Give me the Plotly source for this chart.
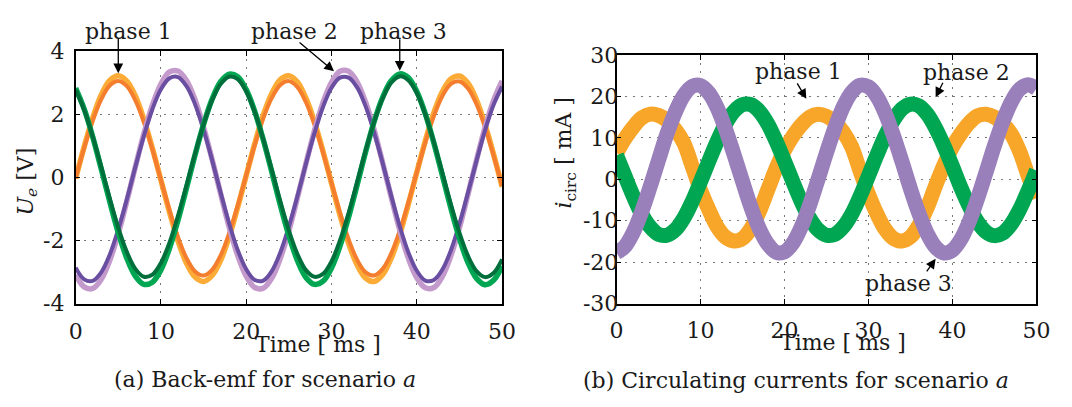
import plotly.graph_objects as go

# ---------------------------------------------------------------- data
time_ms = list(range(0, 51))

# Back-emf U_e [V] per phase; each phase is recorded as two traces
emf1_light = [-0.04, 0.97, 1.88, 2.61, 3.07, 3.22, 3.05, 2.58, 1.84, 0.92,
              -0.09, -1.10, -2.01, -2.72, -3.16, -3.30, -3.11, -2.63, -1.88, -0.95,
              0.06, 1.07, 1.97, 2.66, 3.10, 3.22, 3.02, 2.51, 1.76, 0.83,
              -0.19, -1.20, -2.09, -2.77, -3.19, -3.30, -3.08, -2.56, -1.80, -0.86,
              0.16, 1.16, 2.05, 2.72, 3.12, 3.21, 2.98, 2.45, 1.67, 0.73,
              -0.30]
emf1_dark = [-0.03, 0.93, 1.79, 2.47, 2.91, 3.05, 2.89, 2.44, 1.75, 0.88,
             -0.08, -1.03, -1.89, -2.56, -2.98, -3.11, -2.93, -2.47, -1.77, -0.89,
             0.07, 1.02, 1.87, 2.52, 2.93, 3.05, 2.86, 2.38, 1.67, 0.79,
             -0.18, -1.12, -1.96, -2.61, -3.01, -3.11, -2.90, -2.41, -1.69, -0.80,
             0.16, 1.11, 1.94, 2.58, 2.96, 3.04, 2.82, 2.32, 1.59, 0.69,
             -0.27]
emf2_light = [-3.08, -3.47, -3.52, -3.23, -2.63, -1.78, -0.76, 0.33, 1.38, 2.29,
              2.96, 3.34, 3.37, 3.07, 2.46, 1.59, 0.57, -0.52, -1.57, -2.47,
              -3.13, -3.49, -3.51, -3.19, -2.56, -1.69, -0.65, 0.44, 1.48, 2.37,
              3.01, 3.36, 3.36, 3.02, 2.38, 1.50, 0.46, -0.63, -1.67, -2.55,
              -3.18, -3.50, -3.49, -3.14, -2.48, -1.59, -0.54, 0.55, 1.58, 2.44,
              3.06]
emf2_dark = [-2.86, -3.23, -3.28, -3.01, -2.45, -1.65, -0.70, 0.33, 1.31, 2.16,
             2.79, 3.14, 3.18, 2.89, 2.32, 1.51, 0.55, -0.48, -1.46, -2.30,
             -2.91, -3.25, -3.27, -2.97, -2.38, -1.56, -0.60, 0.43, 1.40, 2.23,
             2.84, 3.16, 3.16, 2.85, 2.25, 1.42, 0.45, -0.58, -1.55, -2.37,
             -2.96, -3.27, -3.25, -2.92, -2.31, -1.47, -0.49, 0.53, 1.49, 2.30,
             2.88]
emf3_light = [2.83, 2.17, 1.29, 0.27, -0.77, -1.75, -2.56, -3.13, -3.39, -3.32,
              -2.93, -2.25, -1.36, -0.34, 0.71, 1.68, 2.48, 3.03, 3.27, 3.19,
              2.78, 2.09, 1.19, 0.17, -0.88, -1.84, -2.63, -3.17, -3.39, -3.29,
              -2.87, -2.17, -1.26, -0.24, 0.81, 1.77, 2.54, 3.06, 3.28, 3.16,
              2.72, 2.01, 1.09, 0.06, -0.98, -1.93, -2.70, -3.20, -3.40, -3.26,
              -2.81]
emf3_dark = [2.77, 2.14, 1.30, 0.34, -0.66, -1.59, -2.36, -2.90, -3.15, -3.08,
             -2.71, -2.07, -1.22, -0.25, 0.75, 1.67, 2.44, 2.96, 3.19, 3.11,
             2.72, 2.07, 1.21, 0.24, -0.76, -1.68, -2.43, -2.94, -3.15, -3.06,
             -2.66, -1.99, -1.13, -0.15, 0.85, 1.76, 2.50, 3.00, 3.20, 3.08,
             2.67, 1.99, 1.12, 0.14, -0.85, -1.76, -2.49, -2.97, -3.16, -3.03,
             -2.60]

# Circulating currents i_circ [mA]
icirc1 = [6.3, 9.8, 12.6, 14.8, 15.7, 15.4, 14.2, 12.0, 8.8, 3.2,
          -2.6, -7.4, -11.5, -14.0, -14.9, -14.3, -11.9, -7.8, -2.6, 2.6,
          7.0, 10.4, 13.1, 15.0, 15.7, 15.2, 13.8, 11.4, 7.8, 2.0,
          -3.6, -8.3, -12.1, -14.3, -14.9, -13.9, -11.1, -6.8, -1.5, 3.5,
          7.8, 11.0, 13.6, 15.3, 15.7, 15.0, 13.4, 10.9, 6.7, 0.9,
          -4.6]
icirc2 = [5.8, 0.8, -4.1, -8.4, -11.5, -13.3, -13.5, -12.2, -9.4, -5.4,
          -0.6, 4.4, 9.2, 13.4, 16.4, 18.0, 18.0, 16.4, 13.4, 9.2,
          4.4, -0.6, -5.4, -9.4, -12.2, -13.5, -13.3, -11.5, -8.4, -4.1,
          0.8, 5.8, 10.5, 14.3, 17.0, 18.1, 17.7, 15.7, 12.3, 8.0,
          3.1, -2.0, -6.5, -10.3, -12.7, -13.6, -13.0, -10.8, -7.3, -2.8,
          2.1]
icirc3 = [-17.7, -16.2, -12.8, -7.8, -1.8, 4.6, 10.9, 16.2, 20.2, 22.4,
          22.6, 20.8, 17.2, 12.0, 5.9, -0.5, -6.7, -11.9, -15.6, -17.6,
          -17.5, -15.4, -11.5, -6.2, 0.0, 6.4, 12.4, 17.5, 21.0, 22.7,
          22.3, 20.0, 15.9, 10.4, 4.2, -2.3, -8.2, -13.1, -16.4, -17.8,
          -17.1, -14.5, -10.2, -4.6, 1.7, 8.1, 13.9, 18.6, 21.7, 22.8,
          21.9]

# Tick values and labels
time_ticks = [0, 10, 20, 30, 40, 50]
time_tick_text = ["0", "10", "20", "30", "40", "50"]
emf_ticks = [-4, -2, 0, 2, 4]
emf_tick_text = ["-4", "-2", "0", "2", "4"]
icirc_ticks = [-30, -20, -10, 0, 10, 20, 30]
icirc_tick_text = ["-30", "-20", "-10", "0", "10", "20", "30"]

# ---------------------------------------------------------------- style
W, H = 1072, 407
FONT = "DejaVu Serif"
TXT = "#1a1a1a"

ORANGE_L, ORANGE_D = "#fbab36", "#f47d2e"
PURPLE_L, PURPLE_D = "#c39acb", "#6a4ea2"
GREEN_L, GREEN_D = "#00a651", "#006f3b"

C_ORANGE, C_GREEN, C_PURPLE = "#f8a62a", "#00a651", "#9a80bb"

fig = go.Figure()

# (a) back-emf: pale trace under the deeper one, per phase
for light, dark, cl, cd in [
    (emf1_light, emf1_dark, ORANGE_L, ORANGE_D),
    (emf2_light, emf2_dark, PURPLE_L, PURPLE_D),
    (emf3_light, emf3_dark, GREEN_L, GREEN_D),
]:
    fig.add_trace(go.Scatter(x=time_ms, y=light, mode="lines",
                             line=dict(color=cl, width=5.5, shape="spline"),
                             xaxis="x", yaxis="y", showlegend=False,
                             hoverinfo="skip"))
    fig.add_trace(go.Scatter(x=time_ms, y=dark, mode="lines",
                             line=dict(color=cd, width=4, shape="spline"),
                             xaxis="x", yaxis="y", showlegend=False,
                             hoverinfo="skip"))

# (b) circulating currents
for series, col in [(icirc1, C_ORANGE), (icirc2, C_GREEN), (icirc3, C_PURPLE)]:
    fig.add_trace(go.Scatter(x=time_ms, y=series, mode="lines",
                             line=dict(color=col, width=15, shape="spline"),
                             xaxis="x2", yaxis="y2", showlegend=False,
                             hoverinfo="skip"))


def axis_style(**kw):
    base = dict(
        showline=True, linecolor="black", linewidth=1.5, mirror="ticks",
        ticks="inside", ticklen=5, tickcolor="black", tickwidth=1,
        showgrid=True, gridcolor="#777777", gridwidth=1, griddash="2px,6px",
        zeroline=False, tickmode="array",
        tickfont=dict(family=FONT, size=22, color=TXT),
    )
    base.update(kw)
    return base


L_X0, L_X1 = 70, 505
L_Y0, L_Y1 = 41.7, 310.7
R_X0, R_X1 = 621.7, 1050
R_Y0, R_Y1 = 45.7, 310.7

fig.update_layout(
    width=W, height=H,
    margin=dict(l=0, r=0, t=0, b=0),
    paper_bgcolor="white", plot_bgcolor="white",
    xaxis=axis_style(domain=[L_X0 / W, L_X1 / W], range=[0, 50], anchor="y",
                     tickvals=time_ticks, ticktext=time_tick_text,
                     ticklabelstandoff=7),
    yaxis=axis_style(domain=[1 - L_Y1 / H, 1 - L_Y0 / H], range=[-4, 4],
                     anchor="x", tickvals=emf_ticks, ticktext=emf_tick_text,
                     ticklabelstandoff=5),
    xaxis2=axis_style(domain=[R_X0 / W, R_X1 / W], range=[0, 50], anchor="y2",
                      tickvals=time_ticks, ticktext=time_tick_text,
                      ticklabelstandoff=6),
    yaxis2=axis_style(domain=[1 - R_Y1 / H, 1 - R_Y0 / H], range=[-30, 30],
                      anchor="x2", tickvals=icirc_ticks,
                      ticktext=icirc_tick_text, ticklabelstandoff=-8),
)


def paper_text(text, px, py, size=22, angle=0):
    fig.add_annotation(text=text, x=px / W, y=1 - py / H, xref="paper",
                       yref="paper", xanchor="center", yanchor="middle",
                       showarrow=False, textangle=angle,
                       font=dict(family=FONT, size=size, color=TXT))


def arrow(xref, yref, x, y, ax, ay):
    fig.add_annotation(text="", x=x, y=y, xref=xref, yref=yref,
                       ax=ax, ay=ay, axref="pixel", ayref="pixel",
                       showarrow=True, arrowhead=2, arrowsize=1.5,
                       arrowwidth=1.3, arrowcolor="black")


# axis titles
paper_text("Time [ ms ]", 317, 354)
paper_text("Time [ ms ]", 853, 352)
paper_text("<i>U</i><sub><i>e</i></sub> [V]", 21, 181, angle=-90)
paper_text("<i>i</i><sub>circ</sub> [ mA ]", 570, 150, angle=-90)

# captions
paper_text("(a) Back-emf for scenario <i>a</i>", 263, 392)
paper_text("(b) Circulating currents for scenario <i>a</i>", 805, 393)

# phase labels, back-emf panel
paper_text("phase 1", 124, 21)
paper_text("phase 2", 293, 21)
paper_text("phase 3", 404, 21)
arrow("x", "y", 5.0, 3.3, 0, -36)
arrow("x", "y", 30.3, 3.36, -36, -30)
arrow("x", "y", 38.0, 3.38, 0, -33)

# phase labels, current panel
paper_text("phase 1", 807, 63)
paper_text("phase 2", 979, 64)
paper_text("phase 3", 920, 289)
arrow("x2", "y2", 22.6, 19.4, -10, -17)
arrow("x2", "y2", 38.0, 19.8, 8, -16)
arrow("x2", "y2", 38.0, -19.2, -10, 14)

fig.write_html("out.html")
